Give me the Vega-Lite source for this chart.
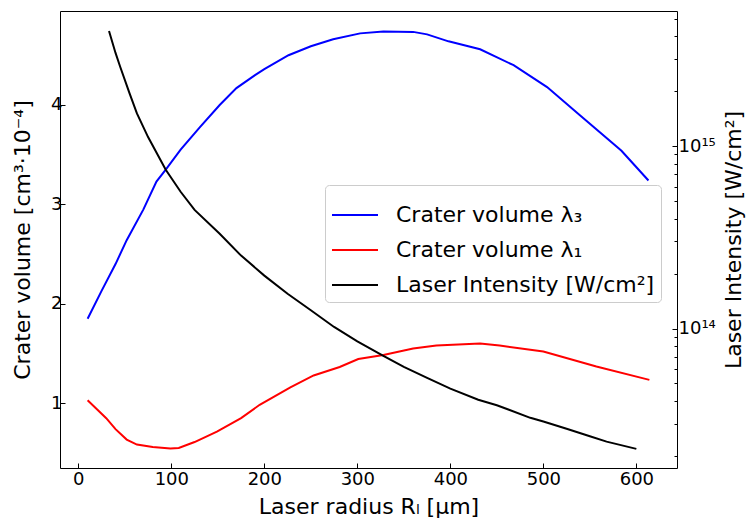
{
  "$schema": "https://vega.github.io/schema/vega-lite/v6.json",
  "width": 617,
  "height": 457,
  "autosize": "none",
  "padding": {"left": 60, "top": 11, "right": 75, "bottom": 53},
  "background": "white",
  "config": {
    "font": "DejaVu Sans",
    "view": {"stroke": "#000000", "strokeWidth": 1},
    "axis": {
      "grid": false,
      "domain": false,
      "labelFont": "DejaVu Sans",
      "labelFontSize": 18,
      "labelColor": "#000000",
      "titleFont": "DejaVu Sans",
      "titleFontSize": 22,
      "titleFontWeight": "normal",
      "titleColor": "#000000",
      "tickColor": "#000000",
      "tickWidth": 1
    },
    "legend": {
      "labelFont": "DejaVu Sans",
      "labelFontSize": 22,
      "labelColor": "#000000",
      "labelLimit": 0
    }
  },
  "data": {
    "values": [
      {"r": 10, "v": 1.85, "series": "Crater volume λ₃"},
      {"r": 25, "v": 2.13, "series": "Crater volume λ₃"},
      {"r": 40, "v": 2.40, "series": "Crater volume λ₃"},
      {"r": 52, "v": 2.64, "series": "Crater volume λ₃"},
      {"r": 70, "v": 2.95, "series": "Crater volume λ₃"},
      {"r": 84, "v": 3.23, "series": "Crater volume λ₃"},
      {"r": 94, "v": 3.35, "series": "Crater volume λ₃"},
      {"r": 110, "v": 3.55, "series": "Crater volume λ₃"},
      {"r": 131, "v": 3.78, "series": "Crater volume λ₃"},
      {"r": 152, "v": 4.00, "series": "Crater volume λ₃"},
      {"r": 170, "v": 4.17, "series": "Crater volume λ₃"},
      {"r": 190, "v": 4.30, "series": "Crater volume λ₃"},
      {"r": 200, "v": 4.36, "series": "Crater volume λ₃"},
      {"r": 226, "v": 4.50, "series": "Crater volume λ₃"},
      {"r": 250, "v": 4.59, "series": "Crater volume λ₃"},
      {"r": 274, "v": 4.66, "series": "Crater volume λ₃"},
      {"r": 303, "v": 4.72, "series": "Crater volume λ₃"},
      {"r": 328, "v": 4.74, "series": "Crater volume λ₃"},
      {"r": 360, "v": 4.735, "series": "Crater volume λ₃"},
      {"r": 375, "v": 4.71, "series": "Crater volume λ₃"},
      {"r": 398, "v": 4.64, "series": "Crater volume λ₃"},
      {"r": 432, "v": 4.56, "series": "Crater volume λ₃"},
      {"r": 468, "v": 4.40, "series": "Crater volume λ₃"},
      {"r": 504, "v": 4.18, "series": "Crater volume λ₃"},
      {"r": 539, "v": 3.90, "series": "Crater volume λ₃"},
      {"r": 584, "v": 3.54, "series": "Crater volume λ₃"},
      {"r": 613, "v": 3.24, "series": "Crater volume λ₃"},
      {"r": 10, "v": 1.03, "series": "Crater volume λ₁"},
      {"r": 20, "v": 0.94, "series": "Crater volume λ₁"},
      {"r": 30, "v": 0.85, "series": "Crater volume λ₁"},
      {"r": 40, "v": 0.74, "series": "Crater volume λ₁"},
      {"r": 52, "v": 0.635, "series": "Crater volume λ₁"},
      {"r": 63, "v": 0.585, "series": "Crater volume λ₁"},
      {"r": 80, "v": 0.56, "series": "Crater volume λ₁"},
      {"r": 99, "v": 0.545, "series": "Crater volume λ₁"},
      {"r": 108, "v": 0.55, "series": "Crater volume λ₁"},
      {"r": 125, "v": 0.61, "series": "Crater volume λ₁"},
      {"r": 149, "v": 0.715, "series": "Crater volume λ₁"},
      {"r": 175, "v": 0.85, "series": "Crater volume λ₁"},
      {"r": 195, "v": 0.985, "series": "Crater volume λ₁"},
      {"r": 228, "v": 1.16, "series": "Crater volume λ₁"},
      {"r": 253, "v": 1.28, "series": "Crater volume λ₁"},
      {"r": 281, "v": 1.365, "series": "Crater volume λ₁"},
      {"r": 301, "v": 1.445, "series": "Crater volume λ₁"},
      {"r": 328, "v": 1.485, "series": "Crater volume λ₁"},
      {"r": 360, "v": 1.55, "series": "Crater volume λ₁"},
      {"r": 385, "v": 1.58, "series": "Crater volume λ₁"},
      {"r": 432, "v": 1.60, "series": "Crater volume λ₁"},
      {"r": 453, "v": 1.58, "series": "Crater volume λ₁"},
      {"r": 500, "v": 1.52, "series": "Crater volume λ₁"},
      {"r": 557, "v": 1.37, "series": "Crater volume λ₁"},
      {"r": 614, "v": 1.235, "series": "Crater volume λ₁"},
      {"r": 33, "v": 4.27e15, "series": "Laser Intensity [W/cm²]"},
      {"r": 40, "v": 3.24e15, "series": "Laser Intensity [W/cm²]"},
      {"r": 45, "v": 2.72e15, "series": "Laser Intensity [W/cm²]"},
      {"r": 55, "v": 1.95e15, "series": "Laser Intensity [W/cm²]"},
      {"r": 63, "v": 1.51e15, "series": "Laser Intensity [W/cm²]"},
      {"r": 75, "v": 1.12e15, "series": "Laser Intensity [W/cm²]"},
      {"r": 94, "v": 7.41e14, "series": "Laser Intensity [W/cm²]"},
      {"r": 110, "v": 5.62e14, "series": "Laser Intensity [W/cm²]"},
      {"r": 125, "v": 4.47e14, "series": "Laser Intensity [W/cm²]"},
      {"r": 152, "v": 3.31e14, "series": "Laser Intensity [W/cm²]"},
      {"r": 175, "v": 2.51e14, "series": "Laser Intensity [W/cm²]"},
      {"r": 200, "v": 1.95e14, "series": "Laser Intensity [W/cm²]"},
      {"r": 225, "v": 1.55e14, "series": "Laser Intensity [W/cm²]"},
      {"r": 250, "v": 1.26e14, "series": "Laser Intensity [W/cm²]"},
      {"r": 275, "v": 1.02e14, "series": "Laser Intensity [W/cm²]"},
      {"r": 300, "v": 8.51e13, "series": "Laser Intensity [W/cm²]"},
      {"r": 328, "v": 7.08e13, "series": "Laser Intensity [W/cm²]"},
      {"r": 350, "v": 6.17e13, "series": "Laser Intensity [W/cm²]"},
      {"r": 375, "v": 5.37e13, "series": "Laser Intensity [W/cm²]"},
      {"r": 400, "v": 4.68e13, "series": "Laser Intensity [W/cm²]"},
      {"r": 430, "v": 4.07e13, "series": "Laser Intensity [W/cm²]"},
      {"r": 450, "v": 3.80e13, "series": "Laser Intensity [W/cm²]"},
      {"r": 486, "v": 3.24e13, "series": "Laser Intensity [W/cm²]"},
      {"r": 500, "v": 3.09e13, "series": "Laser Intensity [W/cm²]"},
      {"r": 525, "v": 2.82e13, "series": "Laser Intensity [W/cm²]"},
      {"r": 550, "v": 2.57e13, "series": "Laser Intensity [W/cm²]"},
      {"r": 568, "v": 2.40e13, "series": "Laser Intensity [W/cm²]"},
      {"r": 600, "v": 2.19e13, "series": "Laser Intensity [W/cm²]"}
    ]
  },
  "encoding": {
    "x": {
      "field": "r",
      "type": "quantitative",
      "scale": {"domain": [-19.7, 643.7], "nice": false, "zero": false},
      "axis": {
        "title": "Laser radius Rₗ [μm]",
        "values": [0, 100, 200, 300, 400, 500, 600],
        "tickSize": -5,
        "labelPadding": 7,
        "titlePadding": 8
      }
    },
    "color": {
      "field": "series",
      "type": "nominal",
      "scale": {
        "domain": ["Crater volume λ₃", "Crater volume λ₁", "Laser Intensity [W/cm²]"],
        "range": ["#0000ff", "#ff0000", "#000000"]
      },
      "legend": {
        "title": null,
        "orient": "none",
        "legendX": 265,
        "legendY": 174,
        "fillColor": "#ffffff",
        "strokeColor": "#cccccc",
        "cornerRadius": 4,
        "padding": 6,
        "symbolType": "stroke",
        "symbolSize": 2116,
        "symbolStrokeWidth": 2,
        "labelOffset": 17,
        "rowPadding": -4
      }
    }
  },
  "layer": [
    {
      "transform": [{"filter": "datum.series != 'Laser Intensity [W/cm²]'"}],
      "mark": {"type": "line", "strokeWidth": 2},
      "encoding": {
        "y": {
          "field": "v",
          "type": "quantitative",
          "scale": {"domain": [0.349, 4.945], "nice": false, "zero": false},
          "axis": {
            "title": "Crater volume [cm³·10⁻⁴]",
            "values": [1, 2, 3, 4],
            "tickSize": -5,
            "labelPadding": 3,
            "titlePadding": 16
          }
        }
      }
    },
    {
      "transform": [{"filter": "datum.series == 'Laser Intensity [W/cm²]'"}],
      "mark": {"type": "line", "strokeWidth": 2},
      "encoding": {
        "y": {
          "field": "v",
          "type": "quantitative",
          "scale": {"type": "log", "domain": [1.72e13, 5.5e15], "nice": false},
          "axis": {
            "orient": "right",
            "title": "Laser Intensity [W/cm²]",
            "titleAngle": 270,
            "titleBaseline": "top",
            "values": [2e13, 3e13, 4e13, 5e13, 6e13, 7e13, 8e13, 9e13, 1e14, 2e14, 3e14, 4e14, 5e14, 6e14, 7e14, 8e14, 9e14, 1e15, 2e15, 3e15, 4e15, 5e15],
            "labelExpr": "datum.value == 1e14 ? '10¹⁴' : (datum.value == 1e15 ? '10¹⁵' : '')",
            "tickSize": {"condition": {"test": "datum.value == 1e14 || datum.value == 1e15", "value": -5}, "value": -3},
            "labelPadding": 6,
            "titlePadding": 8
          }
        }
      }
    }
  ],
  "resolve": {"scale": {"y": "independent"}}
}
